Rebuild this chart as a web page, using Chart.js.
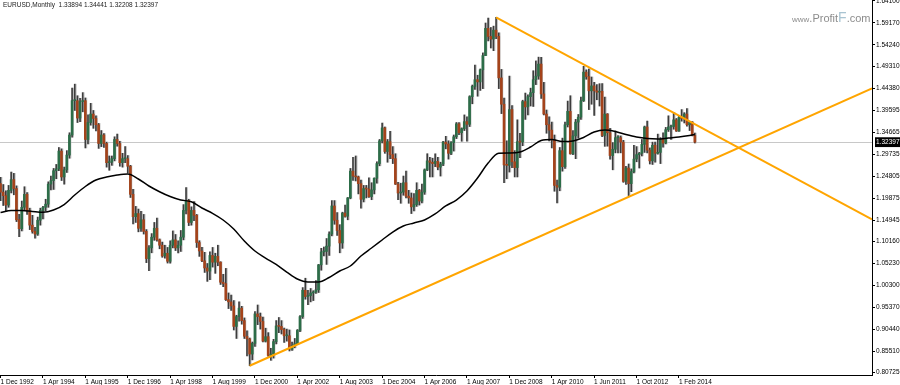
<!DOCTYPE html>
<html>
<head>
<meta charset="utf-8">
<script src="https://cdn.jsdelivr.net/npm/chart.js@4.4.1/dist/chart.umd.min.js"></script>
<style>
html,body{margin:0;padding:0;background:#fff;}
#wrap{position:relative;width:900px;height:385px;overflow:hidden;}
#title{position:absolute;left:3px;top:1px;font-family:'Liberation Sans',Arial,sans-serif;font-size:6.5px;color:#222;white-space:pre;}
#wm{position:absolute;left:792px;top:8px;font-family:'Liberation Sans',Arial,sans-serif;color:#8c8c8c;white-space:nowrap;}
</style>
</head>
<body>
<div id="wrap">
<canvas id="c" width="900" height="385"></canvas>
<div id="title">EURUSD,Monthly  1.33894 1.34441 1.32208 1.32397</div>
<div id="wm"><span style="font-size:8px">www</span><span style="font-size:11px">.Profit</span><span style="font-size:14px;color:#a9c4d2">F</span><span style="font-size:11px">.com</span></div>
</div>
<script>
// ---- data (monthly EURUSD, Dec 1992 .. Aug 2014, broker bars) ----
const opens = [
1.2310,
1.2120,1.2040,1.1830,1.2160,1.2400,1.2200,1.1500,1.1300,1.1780,1.2070,1.1700,1.1380,
1.1240,1.1180,1.1490,1.1710,1.1780,1.1850,1.2300,1.2380,1.2600,1.2640,1.3040,1.2460,
1.2620,1.2950,1.3400,1.4170,1.4170,1.3780,1.4150,1.4170,1.3300,1.3680,1.3870,1.3770,
1.3630,1.3210,1.3400,1.3210,1.2780,1.2790,1.2870,1.3300,1.3210,1.2780,1.2870,1.2870,
1.2700,1.2070,1.1570,1.1640,1.1310,1.1500,1.1240,1.0630,1.0870,1.1110,1.1310,1.1050,
1.0930,1.0690,1.0750,1.0570,1.0930,1.1050,1.0870,1.0930,1.1110,1.1710,1.1930,1.1440,
1.1710,1.1600,1.0990,1.0800,1.0580,1.0420,1.0350,1.0700,1.0550,1.0680,1.0550,1.0100,
1.0070,0.9710,0.9660,0.9570,0.9110,0.9330,0.9520,0.9240,0.8890,0.8830,0.8490,0.8730,
0.9390,0.9330,0.9220,0.8780,0.8880,0.8460,0.8490,0.8770,0.9120,0.9110,0.9040,0.8900,
0.8900,0.8600,0.8680,0.8720,0.9020,0.9330,0.9920,0.9780,0.9800,0.9860,0.9880,0.9930,
1.0490,1.0780,1.0790,1.0910,1.1180,1.1810,1.1490,1.1260,1.0980,1.1650,1.1580,1.1990,
1.2590,1.2480,1.2460,1.2310,1.1960,1.2200,1.2190,1.2020,1.2170,1.2430,1.2760,1.3270,
1.3560,1.3030,1.3250,1.2960,1.2870,1.2300,1.2100,1.2120,1.2330,1.2030,1.1990,1.1790,
1.1840,1.2160,1.1920,1.2120,1.2620,1.2820,1.2790,1.2760,1.2810,1.2680,1.2750,1.3240,
1.3200,1.2990,1.3230,1.3360,1.3650,1.3450,1.3540,1.3700,1.3640,1.4260,1.4490,1.4640,
1.4590,1.4860,1.5180,1.5790,1.5610,1.5550,1.5750,1.5610,1.4680,1.4090,1.2730,1.2720,
1.3970,1.2800,1.2670,1.3250,1.3240,1.4150,1.4030,1.4260,1.4350,1.4640,1.4720,1.4990,
1.4320,1.3870,1.3630,1.3510,1.3290,1.2270,1.2230,1.3050,1.2690,1.3630,1.3930,1.2980,
1.3380,1.3690,1.3800,1.4170,1.4810,1.4710,1.4390,1.4500,1.4390,1.4360,1.4380,1.3390,1.3870,1.3450,
1.2940,1.3080,1.3340,1.3340,1.3240,1.2360,1.2660,1.2310,1.2580,1.2860,1.2960,1.2990,
1.3190,1.3580,1.3060,1.2820,1.3170,1.2990,1.3010,1.3300,1.3220,1.3520,1.3580,1.3590,
1.3740,1.3490,1.3800,1.3770,1.3870,1.3630,1.3690,1.33894
];
const highs = [
1.2450,
1.2290,1.2150,1.2270,1.2570,1.2540,1.2260,1.1620,1.1920,1.2240,1.2110,1.1760,1.1600,
1.1330,1.1560,1.1760,1.1800,1.1960,1.2350,1.2480,1.2650,1.2740,1.3120,1.3090,1.2680,
1.3050,1.3450,1.4450,1.4540,1.4280,1.4220,1.4350,1.4230,1.3850,1.4110,1.3950,1.3830,
1.3660,1.3500,1.3430,1.3240,1.2930,1.2930,1.3360,1.3420,1.3260,1.2990,1.3140,1.2940,
1.2720,1.2180,1.1800,1.1740,1.1690,1.1620,1.1280,1.0920,1.1190,1.1440,1.1540,1.1070,
1.1000,1.0930,1.0880,1.1030,1.1250,1.1170,1.1030,1.1260,1.1840,1.2220,1.1960,1.1790,
1.1906,1.1620,1.1030,1.0880,1.0770,1.0520,1.0780,1.0880,1.0750,1.0930,1.0560,1.0280,
1.0410,0.9860,0.9810,0.9690,0.9360,0.9660,0.9560,0.9300,0.9010,0.8850,0.8760,0.9440,
0.9590,0.9410,0.9320,0.9070,0.8970,0.8620,0.8820,0.9240,0.9310,0.9240,0.9070,0.9050,
0.9030,0.8760,0.8840,0.9040,0.9350,0.9980,1.0190,0.9920,0.9960,0.9910,1.0140,1.0500,
1.0860,1.0890,1.1080,1.1230,1.1930,1.1930,1.1660,1.1390,1.1670,1.1830,1.2000,1.2650,
1.2900,1.2930,1.2480,1.2390,1.2270,1.2270,1.2440,1.2330,1.2440,1.2800,1.3300,1.3670,
1.3580,1.3300,1.3480,1.3140,1.2980,1.2340,1.2320,1.2480,1.2590,1.2160,1.2100,1.2090,
1.2330,1.2180,1.2300,1.2640,1.2980,1.2900,1.2880,1.2980,1.2900,1.2790,1.3260,1.3370,
1.3270,1.3250,1.3400,1.3680,1.3680,1.3560,1.3850,1.3810,1.4280,1.4520,1.4970,1.4740,
1.4880,1.5240,1.5910,1.6020,1.5810,1.5840,1.6038,1.5690,1.4870,1.4230,1.3270,1.4720,
1.4060,1.3050,1.3740,1.3440,1.4180,1.4340,1.4300,1.4450,1.4840,1.5060,1.5145,1.5140,
1.4580,1.3960,1.3810,1.3690,1.3400,1.2390,1.3120,1.3330,1.3690,1.4160,1.4280,1.3500,
1.3750,1.3860,1.4250,1.4940,1.4860,1.4880,1.4700,1.4580,1.4530,1.4550,1.4550,1.4250,1.3880,1.3550,
1.3230,1.3490,1.3390,1.3380,1.3280,1.2700,1.2750,1.2640,1.3170,1.3140,1.3010,1.3300,
1.3600,1.3710,1.3110,1.3240,1.3240,1.3420,1.3340,1.3450,1.3570,1.3830,1.3620,1.3900,
1.3770,1.3820,1.3970,1.3900,1.3993,1.3680,1.3700,1.34441
];
const lows = [
1.1930,
1.1820,1.1690,1.1780,1.2100,1.2060,1.1460,1.1120,1.1250,1.1720,1.1620,1.1280,1.1200,
1.1090,1.1150,1.1380,1.1520,1.1700,1.1780,1.2170,1.2180,1.2420,1.2600,1.2380,1.2300,
1.2560,1.2880,1.3350,1.3950,1.3680,1.3700,1.3920,1.3110,1.3200,1.3620,1.3550,1.3490,
1.3100,1.3140,1.3120,1.2680,1.2610,1.2720,1.2820,1.3150,1.2700,1.2680,1.2780,1.2550,
1.2000,1.1410,1.1440,1.1230,1.1240,1.1180,1.0540,1.0360,1.0760,1.1040,1.1020,1.0850,
1.0660,1.0640,1.0530,1.0530,1.0870,1.0810,1.0760,1.0790,1.1050,1.1630,1.1370,1.1380,
1.1480,1.0880,1.0680,1.0560,1.0320,1.0120,1.0160,1.0440,1.0300,1.0470,1.0050,1.0000,
0.9690,0.9510,0.9470,0.9030,0.8840,0.9230,0.9160,0.8840,0.8450,0.8228,0.8360,0.8660,
0.9150,0.9050,0.8760,0.8760,0.8440,0.8350,0.8400,0.8720,0.8970,0.8940,0.8750,0.8780,
0.8560,0.8570,0.8630,0.8700,0.8990,0.9290,0.9720,0.9600,0.9660,0.9690,0.9850,0.9870,
1.0370,1.0690,1.0500,1.0700,1.1140,1.1400,1.1150,1.0760,1.0860,1.1560,1.1500,1.1970,
1.2380,1.2370,1.2080,1.1760,1.1900,1.1990,1.2000,1.1950,1.2080,1.2320,1.2710,1.3220,
1.2990,1.2790,1.2870,1.2760,1.2290,1.1950,1.1870,1.2050,1.1990,1.1870,1.1640,1.1700,
1.1800,1.1830,1.1880,1.2070,1.2600,1.2460,1.2460,1.2690,1.2620,1.2480,1.2710,1.3090,
1.2860,1.2960,1.3040,1.3320,1.3410,1.3260,1.3500,1.3260,1.3590,1.4100,1.4420,1.4270,
1.4400,1.4440,1.5180,1.5510,1.5350,1.5290,1.5560,1.4440,1.3880,1.2330,1.2420,1.2570,
1.2670,1.2460,1.2460,1.2890,1.3160,1.3750,1.3850,1.4050,1.4040,1.4530,1.4650,1.4220,
1.3850,1.3440,1.3270,1.3110,1.2140,1.1876,1.2150,1.2590,1.2650,1.3580,1.2970,1.2960,
1.2870,1.3330,1.3750,1.4150,1.4650,1.3970,1.4090,1.3840,1.4190,1.4050,1.3360,1.3146,1.3150,1.2860,
1.2620,1.3000,1.3000,1.3000,1.2340,1.2290,1.2042,1.2130,1.2550,1.2800,1.2660,1.2930,
1.3010,1.3000,1.2750,1.2740,1.2790,1.2970,1.2760,1.3130,1.3200,1.3480,1.3300,1.3530,
1.3480,1.3480,1.3710,1.3670,1.3600,1.3500,1.3380,1.32208
];
const closes = [
1.2120,
1.2040,1.1830,1.2160,1.2400,1.2200,1.1500,1.1300,1.1780,1.2070,1.1700,1.1380,1.1240,
1.1180,1.1490,1.1710,1.1780,1.1850,1.2300,1.2380,1.2600,1.2640,1.3040,1.2460,1.2620,
1.2950,1.3400,1.4170,1.4170,1.3780,1.4150,1.4170,1.3300,1.3680,1.3870,1.3770,1.3630,
1.3210,1.3400,1.3210,1.2780,1.2790,1.2870,1.3300,1.3210,1.2780,1.2870,1.2870,1.2700,
1.2070,1.1570,1.1640,1.1310,1.1500,1.1240,1.0630,1.0870,1.1110,1.1310,1.1050,1.0930,
1.0690,1.0750,1.0570,1.0930,1.1050,1.0870,1.0930,1.1110,1.1710,1.1930,1.1440,1.1710,
1.1600,1.0990,1.0800,1.0580,1.0420,1.0350,1.0700,1.0550,1.0680,1.0550,1.0100,1.0070,
0.9710,0.9660,0.9570,0.9110,0.9330,0.9520,0.9240,0.8890,0.8830,0.8490,0.8730,0.9390,
0.9330,0.9220,0.8780,0.8880,0.8460,0.8490,0.8770,0.9120,0.9110,0.9040,0.8900,0.8900,
0.8600,0.8680,0.8720,0.9020,0.9330,0.9920,0.9780,0.9800,0.9860,0.9880,0.9930,1.0490,
1.0780,1.0790,1.0910,1.1180,1.1810,1.1490,1.1260,1.0980,1.1650,1.1580,1.1990,1.2590,
1.2480,1.2460,1.2310,1.1960,1.2200,1.2190,1.2020,1.2170,1.2430,1.2760,1.3270,1.3560,
1.3030,1.3250,1.2960,1.2870,1.2300,1.2100,1.2120,1.2330,1.2030,1.1990,1.1790,1.1840,
1.2160,1.1920,1.2120,1.2620,1.2820,1.2790,1.2760,1.2810,1.2680,1.2750,1.3240,1.3200,
1.2990,1.3230,1.3360,1.3650,1.3450,1.3540,1.3700,1.3640,1.4260,1.4490,1.4640,1.4590,
1.4860,1.5180,1.5790,1.5610,1.5550,1.5750,1.5610,1.4680,1.4090,1.2730,1.2720,1.3970,
1.2800,1.2670,1.3250,1.3240,1.4150,1.4030,1.4260,1.4350,1.4640,1.4720,1.4990,1.4320,
1.3870,1.3630,1.3510,1.3290,1.2270,1.2230,1.3050,1.2690,1.3630,1.3930,1.2980,1.3380,
1.3690,1.3800,1.4170,1.4810,1.4710,1.4390,1.4500,1.4390,1.4360,1.4380,1.3390,1.3870,1.3450,1.2940,
1.3080,1.3340,1.3340,1.3240,1.2360,1.2660,1.2310,1.2580,1.2860,1.2960,1.2990,1.3190,
1.3580,1.3060,1.2820,1.3170,1.2990,1.3010,1.3300,1.3220,1.3520,1.3580,1.3590,1.3740,
1.3490,1.3800,1.3770,1.3870,1.3630,1.3690,1.3390,1.32397
];

// moving average at every 4th bar
const maBars = [0,4,8,12,16,20,24,28,32,36,40,44,48,52,56,60,64,68,72,76,80,84,88,92,96,100,104,108,112,116,120,124,128,132,136,140,144,148,152,156,160,164,168,172,176,180,184,188,192,196,200,204,208,212,216,220,224,228,232,236,240,244,248,252,256,260,262];
const maValues = [1.1663,1.1708,1.1708,1.1686,1.1668,1.1719,1.1842,1.2055,1.2246,1.2391,1.2459,1.2503,1.2526,1.2414,1.2257,1.2129,1.2021,1.1943,1.1905,1.1764,1.1645,1.1495,1.1293,1.1024,1.0800,1.0643,1.0498,1.0329,1.0173,1.0106,1.0106,1.0206,1.0352,1.0464,1.0688,1.0868,1.1047,1.1226,1.1360,1.1428,1.1495,1.1630,1.1809,1.1943,1.2145,1.2436,1.2773,1.2990,1.2997,1.3019,1.3131,1.3277,1.3299,1.3254,1.3266,1.3344,1.3467,1.3512,1.3479,1.3411,1.3355,1.3322,1.3311,1.3333,1.3355,1.3389,1.3411];

// trend lines (bar index, price)
const resistBars = [187, 328.86];
const resistPrices = [1.6038, 1.1511];
const supportBars = [94, 328.86];
const supportPrices = [0.8228, 1.4447];

// axis ticks
const xTickBars = [0,16,32,48,64,80,96,112,128,144,160,176,192,208,224,240,256];
const xTickLabels = ['1 Dec 1992','1 Apr 1994','1 Aug 1995','1 Dec 1996','1 Apr 1998','1 Aug 1999','1 Dec 2000','1 Apr 2002','1 Aug 2003','1 Dec 2004','1 Apr 2006','1 Aug 2007','1 Dec 2008','1 Apr 2010','1 Jun 2011','1 Oct 2012','1 Feb 2014'];
const yTickValues = [1.64100,1.59170,1.54240,1.49310,1.44380,1.39595,1.34665,1.29735,1.24805,1.19875,1.14945,1.10160,1.05230,1.00300,0.95370,0.90440,0.85510,0.80725];
const lastPrice = 1.32397;

// ---- chart ----
const X_MIN = -0.2, X_MAX = 328.86, Y_MIN = 0.8021, Y_MAX = 1.6426;
const FONT = {family: "'Liberation Sans', Arial, sans-serif", size: 6.5};

const wickData = lows.map((l, i) => ({x: i, y: [l, highs[i]]}));
const bodyData = opens.map((o, i) => ({x: i, y: [o, closes[i]]}));
const bodyColors = opens.map((o, i) => closes[i] >= o ? '#2c6d48' : '#a4431b');
const maData = maBars.map((b, k) => ({x: b, y: maValues[k]}));
const resistData = resistBars.map((b, k) => ({x: b, y: resistPrices[k]}));
const supportData = supportBars.map((b, k) => ({x: b, y: supportPrices[k]}));

const yTicks = yTickValues.concat([lastPrice]);

new Chart(document.getElementById('c'), {
  type: 'bar',
  data: {
    datasets: [
      {type: 'bar', xAxisID: 'xs', data: wickData, backgroundColor: '#c4c4c4', barThickness: 1, grouped: false, order: 6},
      {type: 'bar', xAxisID: 'x', data: wickData, backgroundColor: '#3c3c3c', barThickness: 1, grouped: false, order: 5},
      {type: 'bar', xAxisID: 'x', data: bodyData, backgroundColor: bodyColors, barThickness: 2, minBarLength: 1, grouped: false, order: 4},
      {type: 'line', xAxisID: 'x', data: maData, borderColor: '#000', borderWidth: 1.5, pointRadius: 0, cubicInterpolationMode: 'monotone', order: 3},
      {type: 'line', xAxisID: 'x', data: resistData, borderColor: '#ffa500', borderWidth: 2, pointRadius: 0, tension: 0, order: 2},
      {type: 'line', xAxisID: 'x', data: supportData, borderColor: '#ffa500', borderWidth: 2, pointRadius: 0, tension: 0, order: 1}
    ]
  },
  options: {
    responsive: false,
    animation: false,
    devicePixelRatio: 1,
    layout: {padding: 0},
    plugins: {legend: {display: false}, tooltip: {enabled: false}, title: {display: false}},
    scales: {
      x: {
        type: 'linear', position: 'bottom', min: X_MIN, max: X_MAX, bounds: 'data', offset: false,
        afterBuildTicks: s => { s.ticks = xTickBars.map(v => ({value: v})); },
        afterFit: s => { s.height = 10; s.paddingLeft = 0; s.paddingRight = 0; },
        ticks: {
          autoSkip: false, maxRotation: 0, minRotation: 0, align: 'start', padding: 0,
          color: '#000', font: FONT,
          callback: (v, i) => xTickLabels[i]
        },
        grid: {display: true, offset: false, drawOnChartArea: false, drawTicks: true, tickLength: 3, tickColor: '#000'},
        border: {display: true, color: '#000', width: 1}
      },
      xs: {
        type: 'linear', display: false, offset: false, min: X_MIN - 0.4, max: X_MAX - 0.4, bounds: 'data'
      },
      y: {
        type: 'linear', position: 'right', min: Y_MIN, max: Y_MAX, bounds: 'data',
        afterBuildTicks: s => { s.ticks = yTicks.map(v => ({value: v})); },
        afterFit: s => { s.width = 28; s.paddingTop = 0; s.paddingBottom = 0; },
        ticks: {
          autoSkip: false, padding: 1, font: FONT,
          color: c => c.tick && c.tick.value === lastPrice ? '#fff' : '#000',
          showLabelBackdrop: true,
          backdropColor: c => c.tick && c.tick.value === lastPrice ? '#000' : 'rgba(0,0,0,0)',
          backdropPadding: {top: 1, bottom: 1, left: 1, right: 4},
          callback: v => Number(v).toFixed(5)
        },
        grid: {
          display: true, drawOnChartArea: true, drawTicks: true, tickLength: 3,
          color: c => c.tick && c.tick.value === lastPrice ? '#c8c8c8' : 'rgba(0,0,0,0)',
          tickColor: c => c.tick && c.tick.value === lastPrice ? 'rgba(0,0,0,0)' : '#000'
        },
        border: {display: true, color: '#000', width: 1}
      }
    }
  }
});
</script>
</body>
</html>
